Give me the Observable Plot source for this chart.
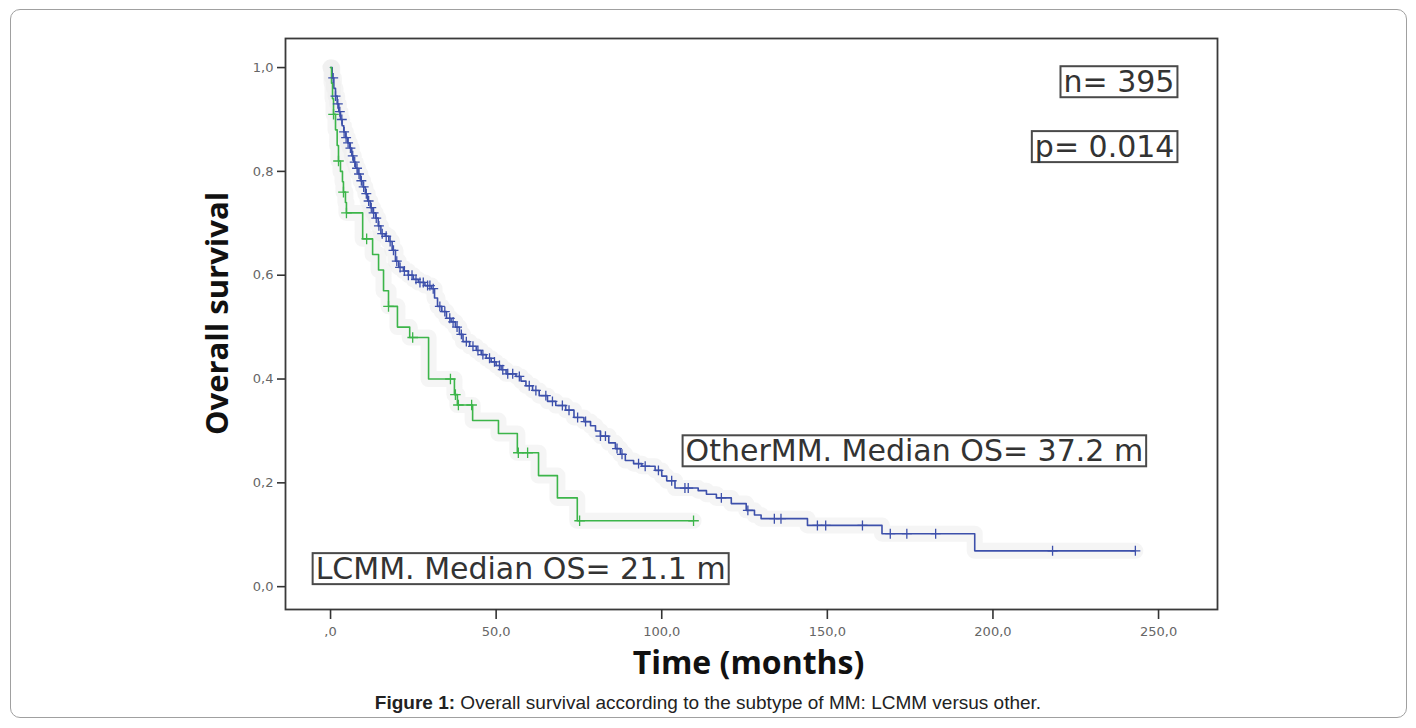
<!DOCTYPE html>
<html><head><meta charset="utf-8">
<script src="https://cdn.jsdelivr.net/npm/d3@7"></script>
<script src="https://cdn.jsdelivr.net/npm/@observablehq/plot@0.6"></script>
<style>
html,body{margin:0;padding:0;background:#fff;width:1416px;height:728px;overflow:hidden;}
#card{position:absolute;left:10px;top:9px;width:1397px;height:709px;border:1px solid #a0a0a0;border-radius:10px;box-sizing:border-box;}
#chart{position:absolute;left:0;top:0;}
#caption{position:absolute;left:0;width:1416px;top:692px;text-align:center;font-family:"Liberation Sans",Arial,sans-serif;font-size:19px;color:#222;}
</style></head><body>
<div id="card"></div>
<div id="chart"></div>
<div id="caption"><b>Figure 1:</b> Overall survival according to the subtype of MM: LCMM versus other.</div>
<script>
// OtherMM Kaplan-Meier curve (time in months, survival proportion)
const otherTime = [0,0.5,1,1.5,2,2.5,3,3.5,4,4.6,5.2,5.8,6.4,7,7.6,8.3,9,9.8,10.5,11.2,12,12.8,13.6,14.4,15.2,16.5,17.6,18.6,19.6,20.6,22,23.5,25,26.5,28.5,30.5,31.4,32.3,33.6,35,36.4,37.7,38.9,40,42,44,45.5,47,48.5,50,51.5,53,56,57.5,59,61,63,65.5,68,71,73.5,76.5,78.5,80,81.5,84,86,87.5,89,91.5,94,98,100,101.5,104,111,113.5,116.5,121,125.5,128,130,144,166.5,194.5,243];
const otherSurv = [1.0,0.98,0.96,0.945,0.93,0.915,0.90,0.888,0.876,0.865,0.855,0.845,0.83,0.818,0.806,0.795,0.782,0.77,0.757,0.743,0.73,0.72,0.71,0.695,0.68,0.675,0.665,0.648,0.627,0.615,0.608,0.60,0.592,0.586,0.58,0.574,0.556,0.54,0.53,0.517,0.51,0.50,0.486,0.472,0.463,0.455,0.447,0.44,0.433,0.426,0.418,0.41,0.405,0.396,0.387,0.378,0.368,0.357,0.349,0.34,0.326,0.318,0.31,0.30,0.29,0.277,0.266,0.255,0.243,0.237,0.232,0.224,0.213,0.204,0.19,0.185,0.178,0.171,0.16,0.147,0.138,0.131,0.118,0.102,0.069,0.069];
const otherCensor = [0.8,1.5,2.2,2.8,3.4,4.1,4.7,5.3,6,6.7,7.3,8,8.6,9.3,10,10.8,11.5,12.3,13,13.8,14.6,15.6,16.8,18,19,20,21,22.3,23.5,24.6,25.8,27,28,29.3,30,31,33,34.5,36,37,38.2,39.5,41,43,44.5,46,48,49.5,51,52,53.5,55,57,60,62,65,67,70,72,74.6,77,81.5,83,86.5,88,93,95,99,103,107,108,118,126,134,136,147,149.5,160.6,169,174,182.7,218,243];

// LCMM Kaplan-Meier curve
const lcmmTime = [0,0.3,0.6,0.9,1.5,2,2.4,3,3.6,3.9,4.5,4.8,9.7,12.7,14.5,16,17.5,20.2,23.9,29.6,37.4,38.3,42.9,50.7,56.4,62.8,68.5,74.5,109.6];
const lcmmSurv = [1.0,0.97,0.94,0.91,0.88,0.85,0.82,0.80,0.78,0.76,0.74,0.72,0.67,0.64,0.61,0.57,0.54,0.50,0.48,0.40,0.37,0.35,0.32,0.295,0.258,0.214,0.171,0.127,0.127];
const lcmmCensor = [0.9,2.4,3.9,4.8,10.9,17.5,24.8,36.2,37.7,38.6,42.6,56.7,59.5,75.2,109.6];

// axis ticks
const xTicks = [0,50,100,150,200,250];
const xTickLabels = [",0","50,0","100,0","150,0","200,0","250,0"];
const yTicks = [0,0.2,0.4,0.6,0.8,1.0];
const yTickLabels = ["0,0","0,2","0,4","0,6","0,8","1,0"];

// annotation texts
const annotations = ["n= 395","p= 0.014","OtherMM. Median OS= 37.2 m","LCMM. Median OS= 21.1 m"];

const BLUE = "#3d50ab", GREEN = "#3cb54a";

const curve = (times, survs) => times.map((t,i) => ({t, s: survs[i]}));
const survAt = (times, survs, t) => survs[Math.max(0, d3.bisectRight(times, t) - 1)];
const censors = (times, survs, cs) => cs.map(t => ({t, s: survAt(times, survs, t)}));

const otherData = curve(otherTime, otherSurv);
const lcmmData = curve(lcmmTime, lcmmSurv);
const otherC = censors(otherTime, otherSurv, otherCensor);
const lcmmC = censors(lcmmTime, lcmmSurv, lcmmCensor);

const annStyle = {fontFamily:"DejaVu Sans", fontSize: 30, fill:"#333"};

const plot = Plot.plot({
  width: 1416, height: 690,
  marginLeft: 285, marginRight: 199, marginTop: 38, marginBottom: 81,
  style: {fontFamily: "DejaVu Sans", fontSize: "13px", background: "transparent", overflow: "visible"},
  x: {domain: [-13.6, 267.8]},
  y: {domain: [-0.044, 1.056]},
  marks: [
    // faint halos around curves
    Plot.line(otherData, {x:"t", y:"s", curve:"step-after", stroke:"#ececec", strokeWidth:16, strokeOpacity:0.5}),
    Plot.line(lcmmData, {x:"t", y:"s", curve:"step-after", stroke:"#ececec", strokeWidth:16, strokeOpacity:0.5}),
    Plot.line(otherData, {x:"t", y:"s", curve:"step-after", stroke:BLUE, strokeWidth:1.6}),
    Plot.line(lcmmData, {x:"t", y:"s", curve:"step-after", stroke:GREEN, strokeWidth:1.6}),
    Plot.dot(otherC, {x:"t", y:"s", symbol:"plus", r:3.3, stroke:BLUE, strokeWidth:1.3}),
    Plot.dot(lcmmC, {x:"t", y:"s", symbol:"plus", r:3.5, stroke:GREEN, strokeWidth:1.3}),
    Plot.frame({stroke:"#3a3a3a", strokeWidth:1.8}),
    Plot.axisX({ticks: xTicks, tickFormat: (d) => xTickLabels[xTicks.indexOf(d)], tickSize: 10, tickPadding: 7, stroke:"#333", strokeWidth:1.6, fill:"#666", label: null}),
    Plot.axisY({ticks: yTicks, tickFormat: (d) => yTickLabels[yTicks.findIndex(v => Math.abs(v-d)<1e-9)], tickSize: 8, tickPadding: 4, stroke:"#333", strokeWidth:1.6, fill:"#666", label: null}),
    Plot.text(["Overall survival"], {frameAnchor:"left", textAnchor:"middle", lineAnchor:"middle", dx:-67, dy:-10.5, rotate:-90, fontFamily:"Open Sans", fontWeight:700, fontSize:31, fill:"#111"}),
    Plot.text(["Time (months)"], {frameAnchor:"bottom", textAnchor:"middle", lineAnchor:"middle", dx:-3, dy:54, fontFamily:"Open Sans", fontWeight:700, fontSize:32, fill:"#111"}),
    Plot.text([annotations[0]], {x:254.8, y:0.971, textAnchor:"end", ...annStyle}),
    Plot.text([annotations[1]], {x:254.8, y:0.846, textAnchor:"end", ...annStyle}),
    Plot.text([annotations[2]], {x:107.2, y:0.26, textAnchor:"start", ...annStyle}),
    Plot.text([annotations[3]], {x:-4.5, y:0.033, textAnchor:"start", ...annStyle})
  ]
});
document.getElementById("chart").appendChild(plot);

// draw boxes around annotation labels
plot.querySelectorAll("text").forEach(el => {
  if (annotations.includes(el.textContent)) {
    const b = el.getBBox();
    const r = document.createElementNS("http://www.w3.org/2000/svg","rect");
    r.setAttribute("x", b.x - 3); r.setAttribute("y", b.y + 2);
    r.setAttribute("width", b.width + 6); r.setAttribute("height", b.height - 4);
    r.setAttribute("fill","white"); r.setAttribute("stroke","#4a4a4a"); r.setAttribute("stroke-width","2");
    const tr = el.getAttribute("transform");
    if (tr) r.setAttribute("transform", tr);
    el.parentNode.insertBefore(r, el);
  }
});
</script>
</body></html>
